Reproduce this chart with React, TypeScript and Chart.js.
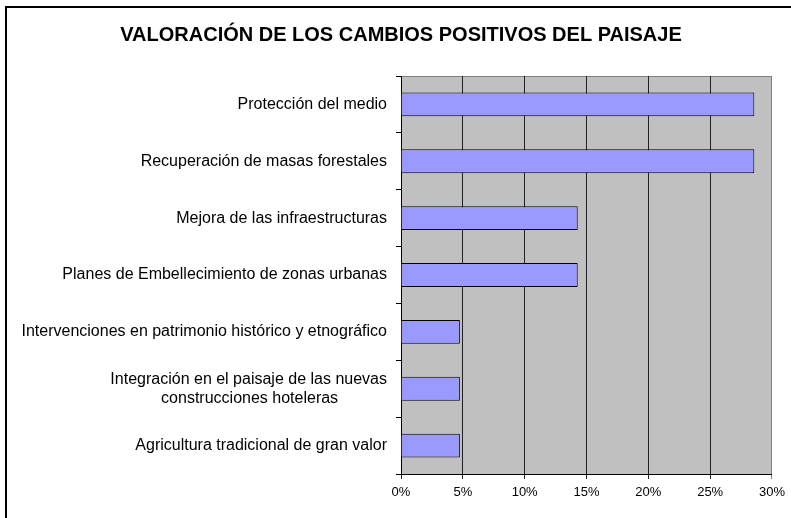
import React, { useEffect, useRef } from "react";
import { Chart, registerables } from "chart.js";

Chart.register(...registerables);

const TITLE = "VALORACIÓN DE LOS CAMBIOS POSITIVOS DEL PAISAJE";

const categories: (string | string[])[] = [
  "Protección del medio",
  "Recuperación de masas forestales",
  "Mejora de las infraestructuras",
  "Planes de Embellecimiento de zonas urbanas",
  "Intervenciones en patrimonio histórico y etnográfico",
  ["Integración en el paisaje de las nuevas", "construcciones hoteleras           "],
  "Agricultura tradicional de gran valor",
];

const values: number[] = [28.57, 28.57, 14.29, 14.29, 4.76, 4.76, 4.76];

const xTicks = { min: 0, max: 30, step: 5 };

const FONT = "'Liberation Sans', Arial, sans-serif";

const plotBg = {
  id: "plotBg",
  beforeDraw(chart: any) {
    const { ctx, chartArea } = chart;
    ctx.save();
    ctx.fillStyle = "#ffffff";
    ctx.fillRect(0, 0, chart.width, chart.height);
    // outer frame
    ctx.fillStyle = "#000000";
    ctx.fillRect(5, 6, chart.width, 2);
    ctx.fillRect(5, 6, 2, chart.height);
    ctx.fillStyle = "#C0C0C0";
    ctx.fillRect(chartArea.left, chartArea.top, chartArea.right - chartArea.left, chartArea.bottom - chartArea.top);
    ctx.strokeStyle = "#808080";
    ctx.lineWidth = 1;
    ctx.beginPath();
    ctx.moveTo(chartArea.left, Math.round(chartArea.top) + 0.5);
    ctx.lineTo(chartArea.right, Math.round(chartArea.top) + 0.5);
    ctx.stroke();
    // title
    ctx.fillStyle = "#000";
    ctx.font = `bold 20px ${FONT}`;
    ctx.textAlign = "center";
    ctx.textBaseline = "middle";
    ctx.fillText(TITLE, 401, 35);
    ctx.restore();
  },
};

export default function App() {
  const ref = useRef<HTMLCanvasElement>(null);
  useEffect(() => {
    if (!ref.current) return;
    const chart = new Chart(ref.current, {
      type: "bar",
      data: {
        labels: categories,
        datasets: [
          {
            data: values,
            backgroundColor: "#9999FF",
            borderColor: "#000000",
            borderWidth: 1,
            barPercentage: 0.42,
            categoryPercentage: 1,
          },
        ],
      },
      options: {
        indexAxis: "y",
        responsive: false,
        animation: false,
        layout: { padding: { left: 0, right: 19, top: 76, bottom: 0 } },
        plugins: {
          legend: { display: false },
          tooltip: { enabled: false },
          title: { display: false },
        },
        scales: {
          x: {
            min: xTicks.min,
            max: xTicks.max,
            ticks: {
              stepSize: xTicks.step,
              color: "#000",
              font: { family: FONT, size: 13 },
              padding: 6,
              callback: (v: any) => v + "%",
            },
            grid: {
              color: (c: any) => (c.tick && c.tick.value === 30 ? "#808080" : "#222222"),
              tickLength: 5,
              drawTicks: true,
            },
            border: { color: "#000", width: 1 },
            afterFit: (s: any) => {
              s.height = 44;
            },
          },
          y: {
            ticks: {
              color: "#000",
              font: { family: FONT, size: 16 },
              padding: 9,
            },
            grid: {
              drawOnChartArea: false,
              drawTicks: true,
              tickLength: 5,
              color: "#000",
              offset: true,
            },
            border: { color: "#000", width: 1 },
            afterFit: (s: any) => {
              s.width = 401;
            },
          },
        },
      },
      plugins: [plotBg],
    });
    return () => chart.destroy();
  }, []);
  return (
    <canvas
      ref={ref}
      width={791}
      height={518}
      style={{ position: "fixed", left: 0, top: 0, width: 791, height: 518 }}
    />
  );
}
